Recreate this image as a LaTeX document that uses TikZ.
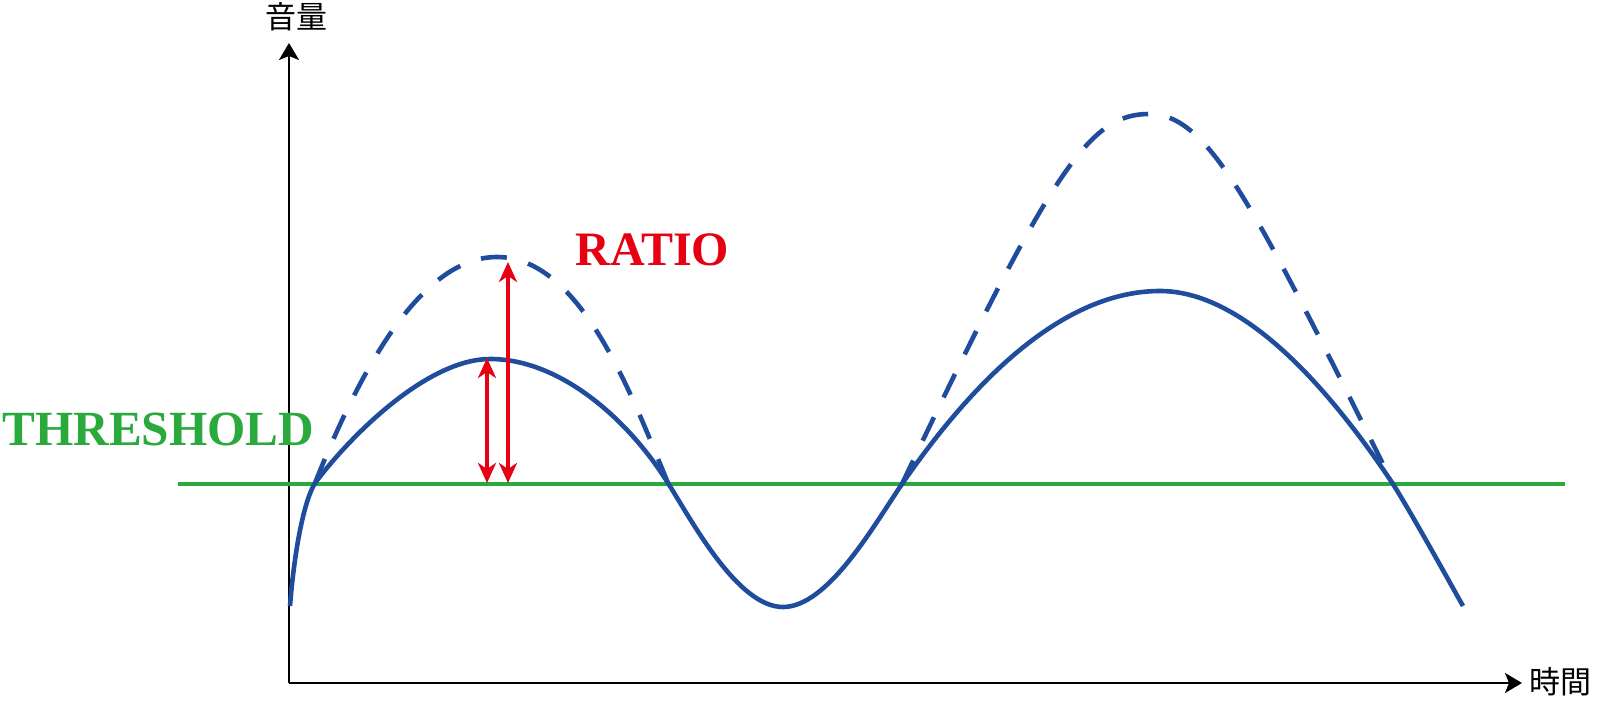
\documentclass[tikz,border=0pt]{standalone}
\usepackage{fontspec}
\setmainfont{Liberation Serif}
\newfontfamily\cjk{Noto Sans CJK JP}
\usetikzlibrary{arrows.meta}
\definecolor{wave}{RGB}{32,76,158}
\definecolor{thr}{RGB}{42,170,60}
\definecolor{ratio}{RGB}{230,0,18}
\tikzset{
  axisline/.style={line width=1pt,black,-{Stealth[length=8.5pt,width=10pt,inset=2pt]}},
  wavesolid/.style={line width=2.3pt,wave},
  wavedash/.style={line width=2.3pt,wave,dash pattern=on 13pt off 11pt},
  thrline/.style={line width=2.2pt,thr},
  ratioarrow/.style={line width=1.8pt,ratio,{Stealth[length=10pt,width=9pt,inset=3pt]}-{Stealth[length=10pt,width=9pt,inset=3pt]}},
  bigtext/.style={inner sep=0pt,font=\fontsize{24}{26}\selectfont\bfseries},
  axtext/.style={inner sep=0pt,font=\cjk\fontsize{15.5}{17}\selectfont}
}
\begin{document}
\begin{tikzpicture}[x=0.5pt,y=-0.5pt]
\useasboundingbox (0,0) rectangle (1597,706);
% axes
\coordinate (O) at (289,683);
\coordinate (Ytip) at (289,43);
\coordinate (Xtip) at (1522,683);
\draw[axisline] (O) -- (Ytip);
\draw[axisline] (O) -- (Xtip);
\node[axtext] (ylab) at (296,17) {音量};
\node[axtext] (xlab) at (1560,682) {時間};
% threshold
\coordinate (T1) at (178,484);
\coordinate (T2) at (1565,484);
\draw[thrline] (T1) -- (T2);
\node[bigtext,text=thr,anchor=base west,font=\fontsize{24.6}{26}\selectfont\bfseries] (thrlab) at (2,445) {THRESHOLD};
% key points
\coordinate (S0) at (290,606);
\coordinate (C1) at (315,483);
\coordinate (P1) at (490,359);
\coordinate (C2) at (668,483);
\coordinate (V1) at (783,607);
\coordinate (C3) at (902,484);
\coordinate (P2) at (1160,291);
\coordinate (C4) at (1393,484);
\coordinate (E0) at (1463,606);
\coordinate (D1) at (497,257);
\coordinate (D2) at (1149,114);
% dashed uncompressed humps
\draw[wavedash] (C1) .. controls (355,383) and (417,257) .. (D1)
  .. controls (582,257) and (633,399) .. (C2);
\draw[wavedash] (C3) .. controls (1052,169) and (1089,114) .. (D2)
  .. controls (1209,114) and (1253,204) .. (C4);
% solid compressed wave
\draw[wavesolid] (S0) .. controls (294,555) and (303,503) .. (C1)
  .. controls (355,430) and (430,359) .. (P1)
  .. controls (560,359) and (628,419) .. (C2)
  .. controls (693,523) and (738,607) .. (V1)
  .. controls (828,607) and (874,525) .. (C3)
  .. controls (982,368) and (1070,291) .. (P2)
  .. controls (1240,291) and (1323,379) .. (C4)
  .. controls (1413,516) and (1445,574) .. (E0);
% ratio arrows
\coordinate (A1b) at (487,483);
\coordinate (A1t) at (487,358);
\coordinate (A2b) at (508,483);
\coordinate (A2t) at (508,262);
\draw[ratioarrow] (A1b) -- (A1t);
\draw[ratioarrow] (A2b) -- (A2t);
\node[bigtext,text=ratio,anchor=base west] (ratiolab) at (575,265) {RATIO};
\end{tikzpicture}
\end{document}
